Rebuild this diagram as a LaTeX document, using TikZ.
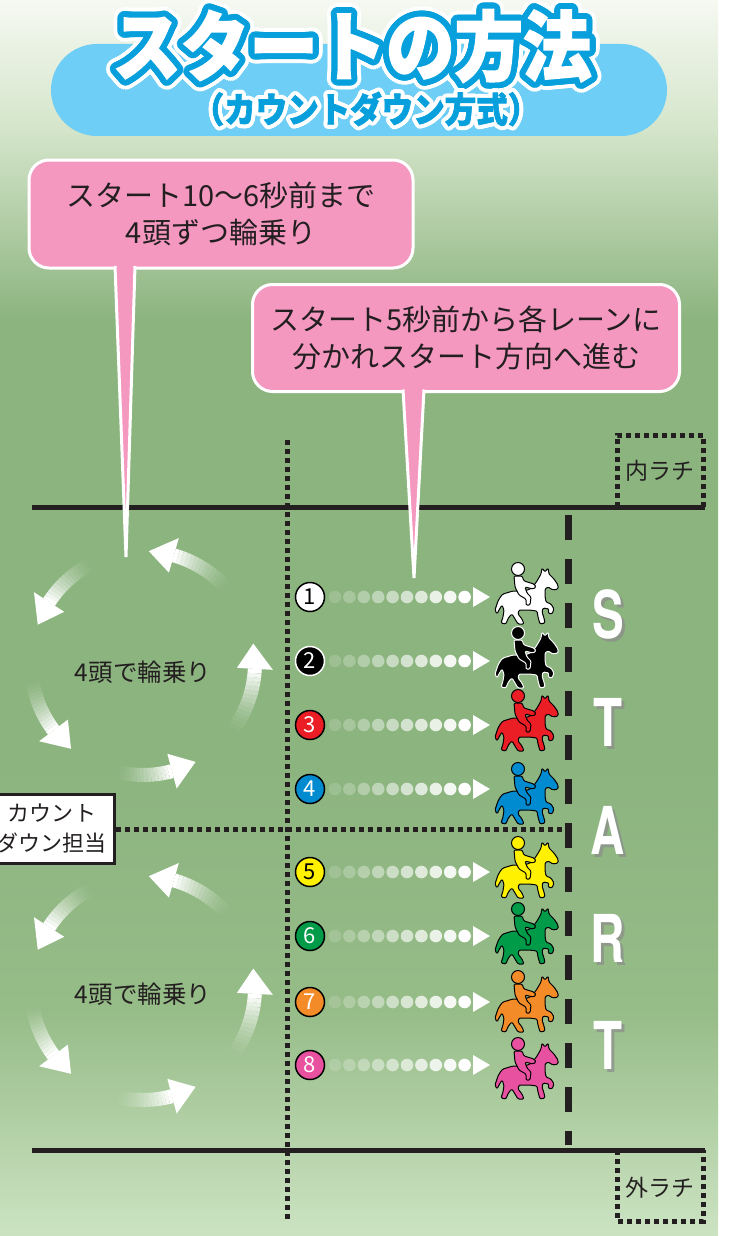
\documentclass[tikz,border=0pt]{standalone}
\usepackage{fontspec}
\setmainfont{Noto Sans CJK JP}
\newfontfamily\titlefont{Noto Sans CJK JP}[FakeStretch=0.9, BoldFeatures={FakeBold=2}]
\newfontfamily\letterfont{TeX Gyre Heros}[FakeStretch=0.72]

\definecolor{bgtop}{RGB}{246,249,242}
\definecolor{bglight}{RGB}{212,229,202}
\definecolor{turf}{RGB}{140,180,127}
\definecolor{turfB}{RGB}{150,188,136}
\definecolor{bgbottom}{RGB}{204,227,194}
\definecolor{ink}{RGB}{35,31,32}
\definecolor{titleblue}{RGB}{8,160,220}
\definecolor{pillblue}{RGB}{110,206,245}
\definecolor{callpink}{RGB}{244,152,192}
\definecolor{lanered}{RGB}{234,30,36}
\definecolor{laneblue}{RGB}{0,138,208}
\definecolor{laneyellow}{RGB}{255,241,0}
\definecolor{lanegreen}{RGB}{0,155,72}
\definecolor{laneorange}{RGB}{243,140,40}
\definecolor{lanepink}{RGB}{232,80,160}

\tikzset{
  pill/.style={fill=pillblue, rounded corners=46pt, minimum width=616pt, minimum height=92pt, inner sep=0pt},
  bigtitle/.style={font=\titlefont\bfseries\fontsize{76}{80}\selectfont, inner sep=0pt},
  subtitle/.style={font=\titlefont\bfseries\fontsize{35}{37}\selectfont, inner sep=0pt},
  callout/.style={fill=callpink, draw=white, line width=3pt, rounded corners=20pt, outer sep=0pt,
    text=ink, align=center, font=\fontsize{29}{37}\selectfont},
  pointer/.style={fill=callpink, draw=white, line width=3pt},
  rail/.style={draw=ink, line width=5pt},
  dots/.style={draw=ink, line width=5pt, dash pattern=on 5pt off 4pt},
  gate/.style={draw=ink, line width=7pt, dash pattern=on 25pt off 19pt},
  tag/.style={text=ink, font=\fontsize{23}{26}\selectfont, inner sep=0pt},
  lanenum/.style={circle, line width=1.5pt, minimum size=29pt, inner sep=0pt, font=\fontsize{22}{22}\selectfont},
  turn/.style={draw=white, line width=14pt},
  letter/.style={font=\letterfont\bfseries\fontsize{66}{66}\selectfont, inner sep=0pt},
  pics/horse/.style 2 args={code={
    % horse
    \filldraw[fill=#1, draw=#2, line width=1pt, line join=round, rounded corners=1.2pt]
      (-24,-2) -- (-14,-5) -- (-2,-5) -- (5,-8) -- (10,-15) -- (14,-22) -- (15,-28) -- (18,-24)
      -- (21,-28) -- (22,-22) -- (27,-17) -- (31,-11) -- (31,-7) -- (26,-6) -- (21,-9) -- (18,-7)
      -- (18,0) -- (19,6) -- (24,8) -- (27,13) -- (25,18) -- (21,17) -- (22,13) -- (16,12)
      -- (15,16) -- (17,22) -- (18,27) -- (13,28) -- (11,21) -- (10,15) -- (2,14) -- (-8,14)
      -- (-9,18) -- (-5,23) -- (-3,28) -- (-9,28) -- (-12,23) -- (-15,18) -- (-18,21) -- (-20,25)
      -- (-21,28) -- (-26,27) -- (-24,21) -- (-23,14) -- (-25,9) -- (-28,14) -- (-30,18)
      -- (-32,14) -- (-29,5) -- (-26,0) -- cycle;
    % jockey
    \filldraw[fill=#1, draw=#2, line width=1pt, line join=round, rounded corners=1.2pt]
      (-13,-20) -- (-5,-20) -- (-3,-15) -- (7,-12) -- (9,-9) -- (6,-7) -- (-2,-9) -- (0,-3)
      -- (4,1) -- (3,9) -- (-1,9) -- (-1,3) -- (-8,-1) -- (-12,-9) -- cycle;
    \filldraw[fill=#1, draw=#2, line width=1pt] (-9,-27) circle[radius=6.5];
  }}
}

\begin{document}
\begin{tikzpicture}[x=1pt,y=-1pt]
\useasboundingbox (0,0) rectangle (732,1236);

% turf
\fill[white] (0,0) rectangle (732,1236);
\shade[top color=bgtop, bottom color=bglight] (0,0) rectangle (718,130);
\shade[top color=bglight, bottom color=turf] (0,130) rectangle (718,320);
\shade[top color=turf, bottom color=turf] (0,320) rectangle (718,760);
\shade[top color=turf, bottom color=turfB] (0,760) rectangle (718,1010);
\shade[top color=turfB, bottom color=bgbottom] (0,1010) rectangle (718,1236);

% heading
\node[pill] (pill) at (359,90) {};
\coordinate (titlepos) at (352,46);
\coordinate (subpos) at (366,109);
\foreach \a in {0,11.25,...,349}
  \node[bigtitle, text=white] (tw\a) at ([shift={(\a:10)}]titlepos) {スタートの方法};
\foreach \a in {0,11.25,...,349}
  \node[bigtitle, text=titleblue] (tb\a) at ([shift={(\a:6)}]titlepos) {スタートの方法};
\node[bigtitle, text=white] (title) at (titlepos) {スタートの方法};
\foreach \a in {0,15,...,345}
  \node[subtitle, text=white] (sw\a) at ([shift={(\a:4)}]subpos) {（カウントダウン方式）};
\node[subtitle, text=titleblue] (subtitle) at (subpos) {（カウントダウン方式）};

% rails and lines
\draw[dots] (287,440) -- (287,1220);
\draw[rail] (32,507) -- (705,507);
\draw[rail] (32,1150) -- (705,1150);
\draw[dots] (617,507) -- (617,435) -- (703,435) -- (703,507);
\draw[dots] (617,1150) -- (617,1221) -- (703,1221) -- (703,1150);
\node[tag] (uchi) at (660,471) {内ラチ};
\node[tag] (soto) at (660,1188) {外ラチ};
\coordinate (gatetop) at (568,515);
\coordinate (gatebot) at (568,1145);
\draw[gate] (gatetop) -- (gatebot);

\node[draw=ink, fill=white, line width=2.5pt, minimum width=125pt, minimum height=69pt, align=center,
  font=\fontsize{22}{30}\selectfont, text=ink] (countdown) at (52,829) {カウント\\ダウン担当};
\draw[dots] (countdown.east) -- (countdown.east -| gatetop);

% circling groups
\foreach \cy/\ty in {663/672,988/994}{
  \foreach \s/\e in {38/-10,-41/-87,-117/-160,-188/-230,-256/-298}{
    \pgfmathsetmacro\h{\e+13}
    \foreach \i in {1,...,16}{
      \pgfmathsetmacro\a{\s+(\h-\s)*(\i-1)/16}
      \pgfmathsetmacro\b{\s+(\h-\s)*\i/16}
      \pgfmathsetmacro\o{(\i/16)^1.7}
      \draw[turn, draw opacity=\o] ([shift={(\a:112)}]143,\cy) arc[start angle=\a, end angle=\b, radius=112];
    }
    \fill[white] ([shift={(\h:130)}]143,\cy) -- ([shift={(\e:112)}]143,\cy) -- ([shift={(\h:94)}]143,\cy) -- cycle;
  }
  \node[tag, font=\fontsize{24.5}{26}\selectfont] (ring\cy) at (143,\ty) {4頭で輪乗り};
}

% lanes
\foreach \n/\ly/\hy/\fc/\tc/\ec in {1/597/596/white/black/black, 2/661/660/black/white/white,
    3/725/723/lanered/white/black, 4/789/796/laneblue/white/black, 5/872/870/laneyellow/black/black,
    6/936/936/lanegreen/white/black, 7/1002/1004/laneorange/white/black, 8/1065/1071/lanepink/white/black}{
  \node[lanenum, fill=\fc, draw=\ec, text=\tc] (num\n) at (310,\ly) {\n};
  \foreach \i in {0,...,9}{
    \pgfmathsetmacro\o{0.15+0.85*\i/9}
    \fill[white, opacity=\o] ([xshift=25pt+14.4pt*\i]num\n.center) circle[radius=6.3];
  }
  \fill[white] ([xshift=163pt,yshift=10pt]num\n.center) -- ([xshift=180pt]num\n.center)
    -- ([xshift=163pt,yshift=-10pt]num\n.center) -- cycle;
  \pic (horse\n) at (527,\hy) {horse={\fc}{\ec}};
}

% START
\foreach \l [count=\k] in {S,T,A,R,T}{
  \node[letter, text=black!45, opacity=.7] (shadow\k) at (611,510+107.75*\k) {\l};
  \node[letter, text=white] (letter\k) at (608,507+107.75*\k) {\l};
}

% callouts
\node[callout, minimum width=384pt, minimum height=108pt] (callA) at (221,214)
  {スタート10〜6秒前まで\\4頭ずつ輪乗り};
\coordinate (tipA) at (126,557);
\coordinate (baseA) at (callA.south -| tipA);
\filldraw[pointer] ([xshift=-11pt,yshift=2pt]baseA) -- (tipA) -- ([xshift=9pt,yshift=2pt]baseA);

\node[callout, minimum width=427pt, minimum height=107pt] (callB) at (466,338)
  {スタート5秒前から各レーンに\\分かれスタート方向へ進む};
\coordinate (tipB) at (414,578);
\coordinate (baseB) at (callB.south -| tipB);
\filldraw[pointer] ([xshift=-11pt,yshift=2pt]baseB) -- (tipB) -- ([xshift=10pt,yshift=2pt]baseB);
\end{tikzpicture}
\end{document}
